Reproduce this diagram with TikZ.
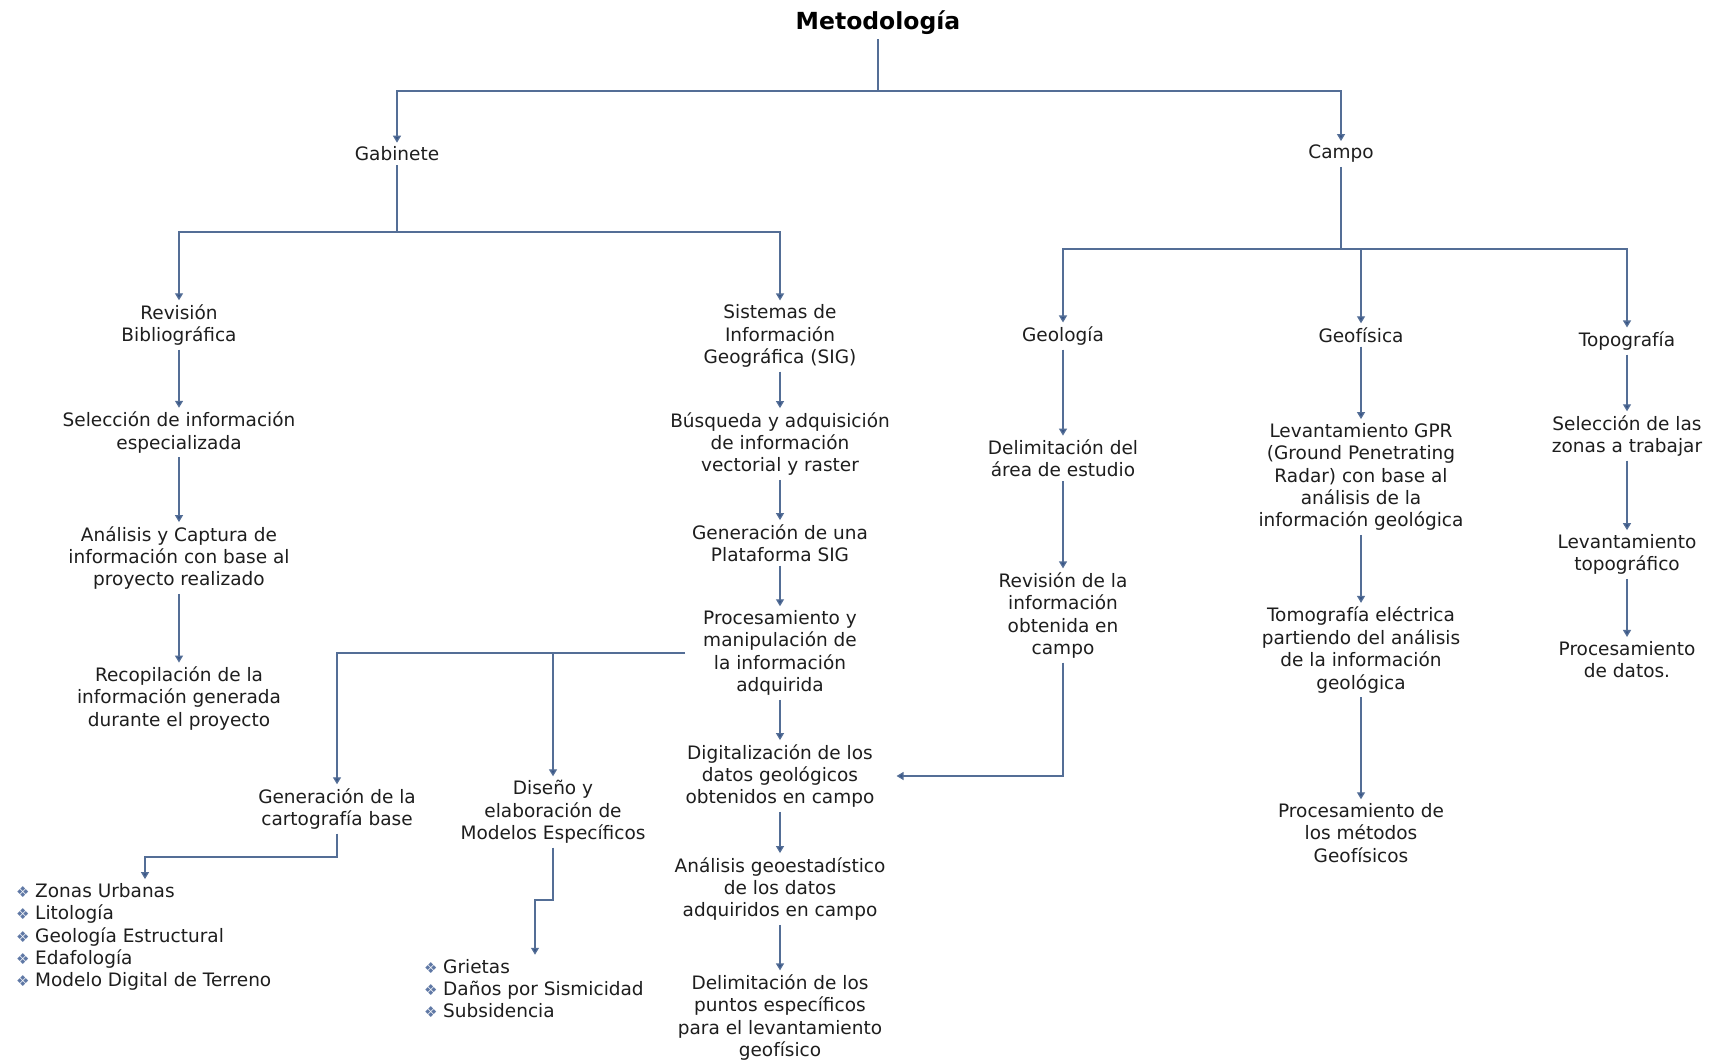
\documentclass[tikz,border=0pt]{standalone}
\usepackage{fontspec}
\setmainfont{DejaVu Sans}
\usetikzlibrary{arrows.meta,calc}
\definecolor{lnc}{RGB}{84,110,150}
\definecolor{tipc}{RGB}{55,85,135}
\definecolor{txt}{RGB}{30,30,30}
\definecolor{bulc}{RGB}{95,120,165}
\newcommand{\bulmark}{\makebox[19pt][l]{\textcolor{bulc}{\fontsize{15}{15}\selectfont ❖}}}
\begin{document}
\begin{tikzpicture}[x=1pt,y=-1pt,
  lbl/.style={align=center, text=txt, font=\fontsize{18.5}{22.4}\selectfont, inner sep=4pt},
  lst/.style={align=left, text=txt, font=\fontsize{18.5}{22.4}\selectfont, anchor=west, inner sep=4pt},
  ttl/.style={text=black, font=\fontsize{23.5}{26}\selectfont\bfseries, inner sep=4pt},
  ln/.style={draw=lnc, line width=1.3pt},
  arr/.style={ln, -{Triangle[width=8pt,length=7pt,fill=tipc]}}]
\useasboundingbox[fill=white] (0,0) rectangle (1710,1061);

% title and level 1
\node[ttl] (title) at (878,23) {Metodología};
\node[lbl] (gab) at (397,154) {Gabinete};
\node[lbl] (campo) at (1341,154) {Campo};

% Gabinete branch
\node[lbl] (rev) at (179,325) {Revisión\\Bibliográfica};
\node[lbl] (sel) at (179,432.5) {Selección de información\\especializada};
\node[lbl] (ana) at (179,558) {Análisis y Captura de\\información con base al\\proyecto realizado};
\node[lbl] (rec) at (179,698.5) {Recopilación de la\\información generada\\durante el proyecto};

\node[lbl] (sig) at (780,336) {Sistemas de\\Información\\Geográfica (SIG)};
\node[lbl] (bus) at (780,444) {Búsqueda y adquisición\\de información\\vectorial y raster};
\node[lbl] (gen) at (780,543) {Generación de una\\Plataforma SIG};
\node[lbl] (pro) at (780,653) {Procesamiento y\\manipulación de\\la información\\adquirida};
\node[lbl] (dig) at (780,776) {Digitalización de los\\datos geológicos\\obtenidos en campo};
\node[lbl] (geo) at (780,889) {Análisis geoestadístico\\de los datos\\adquiridos en campo};
\node[lbl] (del) at (780,1017.5) {Delimitación de los\\puntos específicos\\para el levantamiento\\geofísico};

\node[lbl] (carto) at (337,809) {Generación de la\\cartografía base};
\node[lbl] (dis) at (553,812) {Diseño y\\elaboración de\\Modelos Específicos};
\node[lst] (list1) at (12,937) {\bulmark Zonas Urbanas\\\bulmark Litología\\\bulmark Geología Estructural\\\bulmark Edafología\\\bulmark Modelo Digital de Terreno};
\node[lst] (list2) at (420,988.5) {\bulmark Grietas\\\bulmark Daños por Sismicidad\\\bulmark Subsidencia};

% Campo branch
\node[lbl] (geol) at (1063,336) {Geología};
\node[lbl] (delim) at (1063,458.5) {Delimitación del\\área de estudio};
\node[lbl] (revinf) at (1063,615.5) {Revisión de la\\información\\obtenida en\\campo};

\node[lbl] (geof) at (1361,335) {Geofísica};
\node[lbl] (gpr) at (1361,477) {Levantamiento GPR\\(Ground Penetrating\\Radar) con base al\\análisis de la\\información geológica};
\node[lbl] (tomo) at (1361,650) {Tomografía eléctrica\\partiendo del análisis\\de la información\\geológica};
\node[lbl] (procg) at (1361,833) {Procesamiento de\\los métodos\\Geofísicos};

\node[lbl] (topo) at (1627,341) {Topografía};
\node[lbl] (selz) at (1627,436) {Selección de las\\zonas a trabajar};
\node[lbl] (levt) at (1627,554.5) {Levantamiento\\topográfico};
\node[lbl] (procd) at (1627,659.5) {Procesamiento\\de datos.};

% junction coordinates
\coordinate (top) at (878,91);
\coordinate (gb) at (397,232);
\coordinate (cb) at (1341,249);
\coordinate (k1) at (145,857);
\coordinate (k2) at (535,900);

% connectors level 1
\draw[ln] (title.south) -- (title.south |- top);
\draw[arr] (top) -| (gab.north);
\draw[arr] (top) -| (campo.north);

% Gabinete connectors
\draw[ln] (gab.south) -- (gb);
\draw[arr] (gb) -| (rev.north);
\draw[arr] (gb) -| (sig.north);
\draw[arr] (rev) -- (sel);
\draw[arr] (sel) -- (ana);
\draw[arr] (ana) -- (rec);
\draw[arr] (sig) -- (bus);
\draw[arr] (bus) -- (gen);
\draw[arr] (gen) -- (pro);
\draw[arr] (pro) -- (dig);
\draw[arr] (dig) -- (geo);
\draw[arr] (geo) -- (del);
\draw[arr, shorten <=14pt] (pro.west) -| (carto.north);
\draw[arr] (dis.north |- pro.west) -- (dis.north);
\draw[arr] (carto.south) |- (k1) -- (k1 |- list1.north);
\draw[arr] (dis.south) |- (k2) -- (k2 |- list2.north);

% Campo connectors
\draw[ln] (campo.south) -- (cb);
\draw[arr] (cb) -| (geol.north);
\draw[arr] (cb) -| (geof.north);
\draw[arr] (cb) -| (topo.north);
\draw[arr] (geol) -- (delim);
\draw[arr] (delim) -- (revinf);
\draw[arr, shorten >=18pt] (revinf.south) |- (dig.east);
\draw[arr] (geof) -- (gpr);
\draw[arr] (gpr) -- (tomo);
\draw[arr] (tomo) -- (procg);
\draw[arr] (topo) -- (selz);
\draw[arr] (selz) -- (levt);
\draw[arr] (levt) -- (procd);
\end{tikzpicture}
\end{document}
